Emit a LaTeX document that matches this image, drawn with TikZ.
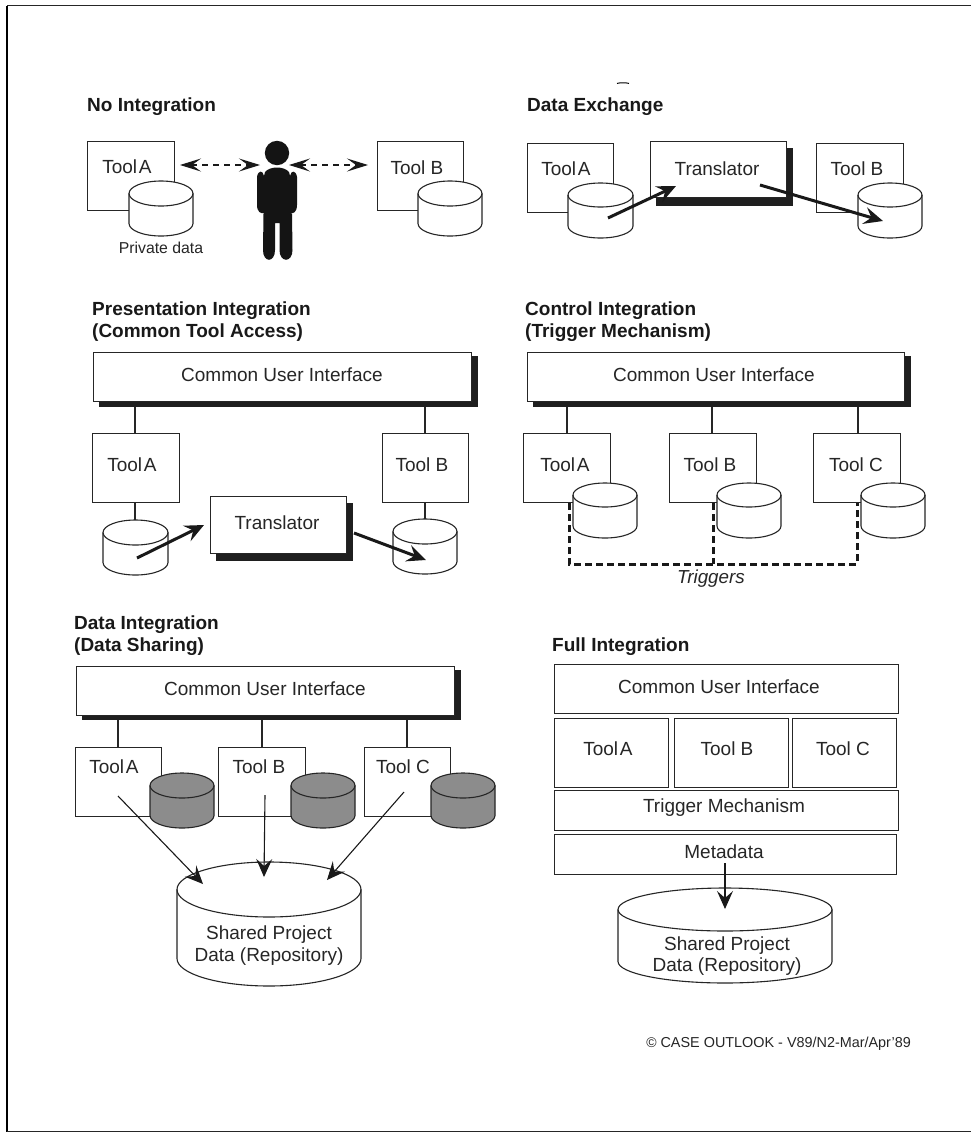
\documentclass[tikz,border=0pt]{standalone}
\usepackage{fontspec}
\setmainfont{Liberation Sans}
\usetikzlibrary{arrows.meta}
\newcommand{\ToolA}{Tool\kern-3.5pt\ A}
\tikzset{
  x=1pt,y=-1pt,
  line/.style={draw=black!85,line width=1.1pt},
  box/.style={line,fill=white,inner sep=0pt,rectangle,anchor=north west},
  shade/.style={fill=black!88,draw=none,inner sep=0pt,rectangle,anchor=north west},
  lbl/.style={inner sep=0pt,font=\fontsize{19}{22}\selectfont,text=black!85},
  ttl/.style={inner sep=0pt,anchor=west,align=left,font=\fontsize{19}{22}\selectfont\bfseries,text=black!90},
  conn/.style={draw=black!85,line width=1.1pt},
  fat/.style={draw=black!90,line width=3pt,-{Stealth[length=19pt,width=17pt,inset=7pt]}},
  thin/.style={draw=black!90,line width=1.1pt,-{Stealth[length=18pt,width=16pt,inset=7pt]}},
  twoway/.style={draw=black!90,line width=1.1pt,dash pattern=on 6pt off 5pt,{Stealth[length=21pt,width=13pt,inset=9pt]}-{Stealth[length=21pt,width=13pt,inset=9pt]}},
  trig/.style={draw=black!90,line width=3pt,dash pattern=on 7pt off 4pt},
}
% name, left x, right x, top y, y of lower edge of top ellipse, bottom y, fill
\newcommand{\cylinder}[7]{%
  \pgfmathsetmacro{\cylrx}{(#3-#2)/2}\pgfmathsetmacro{\cylry}{(#5-#4)/2}%
  \pgfmathsetmacro{\cylty}{(#4+#5)/2}\pgfmathsetmacro{\cylby}{#6-\cylry}%
  \pgfmathsetmacro{\cylcx}{(#2+#3)/2}%
  \coordinate (#1) at (\cylcx,\cylty);
  \draw[line,fill=#7] (#2,\cylty) -- (#2,\cylby) arc[start angle=180,end angle=360,x radius=\cylrx,y radius=-\cylry]
     -- (#3,\cylty) arc[start angle=0,end angle=180,x radius=\cylrx,y radius=-\cylry] -- cycle;
  \draw[line] (#2,\cylty) arc[start angle=180,end angle=360,x radius=\cylrx,y radius=-\cylry];
}
% style, x0,y0,x1,y1, name : plain box
\newcommand{\boxat}[6][box]{%
  \pgfmathsetmacro{\bxw}{#4-#2}\pgfmathsetmacro{\bxh}{#5-#3}%
  \node[#1,minimum width=\bxw pt,minimum height=\bxh pt] (#6) at (#2,#3) {};
}
\begin{document}
\begin{tikzpicture}
\useasboundingbox (0,0) rectangle (971,1133);
\fill[white] (0,0) rectangle (971,1133);
\coordinate (fa) at (7,5.5); \coordinate (fb) at (7,1131.5); \coordinate (fc) at (971,1131.5); \coordinate (fd) at (971,5.5);
\draw[black,line width=2pt] (fa) -- (fb);
\draw[black!85,line width=1.6pt] (fb) -- (fc);
\draw[black!85,line width=1.4pt] (fa) -- (fd);

% ---- No Integration
\node[ttl] (t1) at (87,107) {No Integration};
\boxat{87}{141}{174}{210}{n1a}
\node[lbl] (n1al) at (127,167) {\ToolA};
\cylinder{n1ca}{129}{193}{181}{206}{236}{white}
\node[inner sep=0pt,font=\fontsize{15.8}{18}\selectfont,text=black!85] (n1p) at (161,248) {Private data};
\boxat{377}{141}{463}{210}{n1b}
\node[lbl] (n1bl) at (417,168) {Tool B};
\cylinder{n1cb}{418}{482}{181}{206}{236}{white}
% person
\fill[black!92] (277,153) circle[radius=12.2];
\fill[black!92] (265,172) .. controls (270,166) and (284,166) .. (289,172) -- (290,176)
  .. controls (291,170) and (296,170) .. (297,177) -- (297,205) .. controls (297,212) and (293,214) .. (291,213)
  -- (292,214) -- (292.5,250) .. controls (292.5,263) and (279.5,263) .. (279.5,250) -- (279.5,223) -- (275,223) -- (275,250)
  .. controls (275,263) and (263,263) .. (263,250) -- (263.5,214) -- (264,213) .. controls (261,214) and (257,212) .. (257,205)
  -- (257,177) .. controls (258,170) and (263,170) .. (264,176) -- cycle;
\coordinate (n1p1) at (180,165); \coordinate (n1p2) at (260,165);
\coordinate (n1p3) at (289,165); \coordinate (n1p4) at (368,165);
\draw[twoway] (n1p1) -- (n1p2);
\draw[twoway] (n1p3) -- (n1p4);

% ---- Data Exchange
\draw[black,line width=1pt] (617,83.4) .. controls (620,82.6) and (626,82.6) .. (629,83.4);
\node[ttl] (t2) at (527,107) {Data Exchange};
\boxat{527}{143}{613}{212}{d1a}
\node[lbl] (d1al) at (566,169) {\ToolA};
\cylinder{d1ca}{568}{633}{183}{207}{238}{white}
\boxat[shade]{656}{148}{793}{206}{d1ts}
\boxat{650}{141}{786}{197}{d1t}
\node[lbl] (d1tl) at (717,169) {Translator};
\boxat{816}{143}{903}{212}{d1b}
\node[lbl] (d1bl) at (857,169) {Tool B};
\cylinder{d1cb}{858}{922}{183}{207}{238}{white}
\coordinate (d1p1) at (608,218); \coordinate (d1p2) at (676,186);
\coordinate (d1p3) at (760,185); \coordinate (d1p4) at (883,221);
\draw[fat] (d1p1) -- (d1p2);
\draw[fat] (d1p3) -- (d1p4);

% ---- Presentation Integration
\node[ttl] (t3) at (92,322) {Presentation Integration\\(Common Tool Access)};
\boxat[shade]{99}{356}{478}{407}{p1us}
\boxat{93}{352}{471}{401}{p1u}
\node[lbl] (p1ul) at (282,375) {Common User Interface};
\boxat{92}{433}{179}{502}{p1a}
\node[lbl] (p1al) at (132,465) {\ToolA};
\boxat{382}{433}{468}{502}{p1b}
\node[lbl] (p1bl) at (422,465) {Tool B};
\cylinder{p1ca}{103}{168}{520}{545}{575}{white}
\cylinder{p1cb}{393}{457}{519}{544}{574}{white}
\draw[conn] (p1a.north -| 135,0) -- (p1us.south -| 135,0);
\draw[conn] (p1b.north -| 425,0) -- (p1us.south -| 425,0);
\draw[conn] (p1a.south -| 135,0) -- (135,520);
\draw[conn] (p1b.south -| 425,0) -- (425,519);
\boxat[shade]{216}{503}{353}{561}{p1ts}
\boxat{210}{496}{346}{553}{p1t}
\node[lbl] (p1tl) at (277,523) {Translator};
\coordinate (p1p1) at (137,558); \coordinate (p1p2) at (204,525);
\coordinate (p1p3) at (354,533); \coordinate (p1p4) at (426,560);
\draw[fat] (p1p1) -- (p1p2);
\draw[fat] (p1p3) -- (p1p4);

% ---- Control Integration
\node[ttl] (t4) at (525,322) {Control Integration\\(Trigger Mechanism)};
\boxat[shade]{533}{356}{911}{407}{c1us}
\boxat{527}{352}{904}{401}{c1u}
\node[lbl] (c1ul) at (714,375) {Common User Interface};
\boxat{523}{433}{610}{502}{c1a}
\node[lbl] (c1al) at (565,465) {\ToolA};
\boxat{669}{433}{756}{502}{c1b}
\node[lbl] (c1bl) at (710,465) {Tool B};
\boxat{813}{433}{900}{502}{c1c}
\node[lbl] (c1cl) at (856,465) {Tool C};
\draw[conn] (c1a.north -| 567,0) -- (c1us.south -| 567,0);
\draw[conn] (c1b.north -| 712,0) -- (c1us.south -| 712,0);
\draw[conn] (c1c.north -| 858,0) -- (c1us.south -| 858,0);
\coordinate (c1d1) at (569,503); \coordinate (c1d2) at (569,564); \coordinate (c1d3) at (857,564); \coordinate (c1d4) at (857,503);
\coordinate (c1d5) at (713,503); \coordinate (c1d6) at (713,564);
\draw[trig] (c1d1) -- (c1d2) -- (c1d3) -- (c1d4);
\draw[trig] (c1d5) -- (c1d6);
\cylinder{c1ca}{573}{637}{483}{507}{538}{white}
\cylinder{c1cb}{717}{781}{483}{507}{538}{white}
\cylinder{c1cc}{861}{925}{483}{507}{538}{white}
\node[lbl,font=\fontsize{18.8}{22}\selectfont\itshape] (c1tr) at (711,579) {Triggers};

% ---- Data Integration
\node[ttl] (t5) at (74,635.5) {Data Integration\\(Data Sharing)};
\boxat[shade]{82}{670}{461}{720}{e1us}
\boxat{76}{666}{454}{715}{e1u}
\node[lbl] (e1ul) at (265,689) {Common User Interface};
\boxat{75}{747}{161}{816}{e1a}
\node[lbl] (e1al) at (114,767) {\ToolA};
\boxat{218}{747}{305}{816}{e1b}
\node[lbl] (e1bl) at (259,767) {Tool B};
\boxat{364}{747}{450}{816}{e1c}
\node[lbl] (e1cl) at (403,767) {Tool C};
\draw[conn] (e1a.north -| 118,0) -- (e1us.south -| 118,0);
\draw[conn] (e1b.north -| 262,0) -- (e1us.south -| 262,0);
\draw[conn] (e1c.north -| 407,0) -- (e1us.south -| 407,0);
\cylinder{e1ca}{150}{214}{773}{798}{828}{black!45}
\cylinder{e1cb}{291}{355}{773}{798}{828}{black!45}
\cylinder{e1cc}{431}{495}{773}{798}{828}{black!45}
\cylinder{e1r}{177}{361}{862}{917}{986}{white}
\node[lbl] (e1r1) at (269,935) {Shared Project};
\node[lbl] (e1r2) at (269,957) {Data (Repository)};
\coordinate (e1p1) at (118,796); \coordinate (e1p2) at (203,884);
\coordinate (e1p3) at (265,795); \coordinate (e1p4) at (264,877);
\coordinate (e1p5) at (404,792); \coordinate (e1p6) at (327,880);
\draw[thin] (e1p1) -- (e1p2);
\draw[thin] (e1p3) -- (e1p4);
\draw[thin] (e1p5) -- (e1p6);

% ---- Full Integration
\node[ttl] (t6) at (552,647) {Full Integration};
\boxat{554}{664}{898}{713}{f1u}
\node[lbl] (f1ul) at (719,687) {Common User Interface};
\boxat{554}{718}{668}{787}{f1a}
\node[lbl] (f1al) at (608,749) {\ToolA};
\boxat{674}{718}{788}{787}{f1b}
\node[lbl] (f1bl) at (727,749) {Tool B};
\boxat{792}{718}{896}{787}{f1c}
\node[lbl] (f1cl) at (843,749) {Tool C};
\boxat{554}{790}{898}{830}{f1tm}
\node[lbl] (f1tml) at (724,808) {Trigger Mechanism};
\boxat{554}{834}{896}{874}{f1m}
\node[lbl] (f1ml) at (724,852) {Metadata};
\cylinder{f1r}{618}{832}{888}{931}{983}{white}
\node[lbl] (f1r1) at (727,946) {Shared Project};
\node[lbl] (f1r2) at (727,967) {Data (Repository)};
\coordinate (f1p1) at (725,863); \coordinate (f1p2) at (725,909);
\draw[thin] (f1p1) -- (f1p2);
\node[inner sep=0pt,anchor=east,font=\fontsize{14.4}{17}\selectfont,text=black!85] (cpr) at (911,1044) {{\fontsize{14}{14}\selectfont©} CASE OUTLOOK - V89/N2-Mar/Apr'89};
\end{tikzpicture}
\end{document}
